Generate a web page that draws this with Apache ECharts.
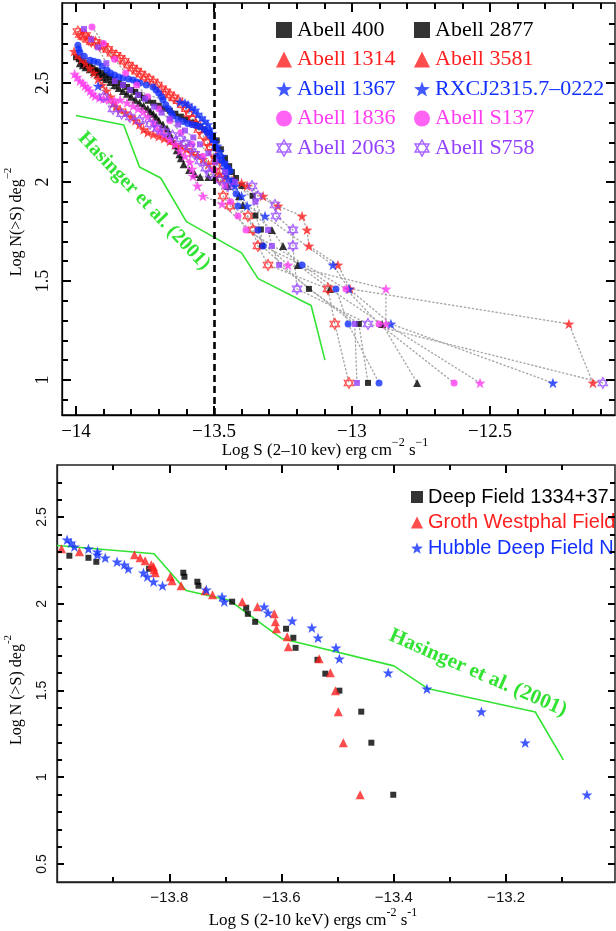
<!DOCTYPE html>
<html><head><meta charset="utf-8">
<script src="https://cdn.jsdelivr.net/npm/echarts@6/dist/echarts.min.js"></script>
<style>html,body{margin:0;padding:0;background:#fff}#c{width:616px;height:931px}</style>
</head><body><div id="c"></div>
<script>
// ---------- TOP PANEL DATA (Log S, Log N) ----------
const a400  = [[-14.0,2.63],[-13.99,2.62],[-13.98,2.61],[-13.97,2.60],[-13.96,2.59],[-13.95,2.585],[-13.94,2.575],[-13.93,2.565],[-13.92,2.56],[-13.905,2.55],[-13.89,2.54],[-13.875,2.53],[-13.86,2.515],[-13.845,2.50],[-13.83,2.49],[-13.815,2.48],[-13.80,2.465],[-13.785,2.455],[-13.77,2.44],[-13.755,2.425],[-13.74,2.41],[-13.72,2.40],[-13.70,2.385],[-13.68,2.37],[-13.66,2.36],[-13.64,2.345],[-13.62,2.33],[-13.60,2.315],[-13.58,2.30],[-13.565,2.29],[-13.55,2.28],[-13.535,2.265],[-13.52,2.25],[-13.505,2.23],[-13.49,2.21],[-13.475,2.165],[-13.46,2.12],[-13.445,2.08],[-13.435,2.05],[-13.42,2.02],[-13.40,1.98],[-13.36,1.93],[-13.35,1.83],[-13.33,1.76],[-13.326,1.677],[-13.156,1.46],[-12.975,1.283],[-12.942,0.985]];
const a2877 = [[-13.986,2.60],[-13.975,2.59],[-13.965,2.58],[-13.95,2.57],[-13.935,2.555],[-13.92,2.545],[-13.905,2.53],[-13.89,2.52],[-13.875,2.505],[-13.86,2.49],[-13.845,2.475],[-13.83,2.46],[-13.815,2.445],[-13.80,2.43],[-13.785,2.415],[-13.77,2.40],[-13.755,2.385],[-13.74,2.37],[-13.73,2.355],[-13.72,2.345],[-13.71,2.33],[-13.70,2.31],[-13.685,2.29],[-13.67,2.27],[-13.66,2.24],[-13.65,2.21],[-13.64,2.185],[-13.635,2.16],[-13.625,2.14],[-13.62,2.12],[-13.61,2.09],[-13.59,2.06],[-13.57,2.04],[-13.55,2.025],[-13.52,2.025],[-13.496,2.025],[-13.45,1.98],[-13.409,1.929],[-13.395,1.884],[-13.29,1.758],[-13.25,1.677],[-13.196,1.581],[-13.08,1.46],[-12.891,1.283],[-12.764,0.985]];
const a1314 = [[-14.007,2.66],[-13.995,2.64],[-13.98,2.62],[-13.965,2.60],[-13.95,2.575],[-13.935,2.55],[-13.92,2.52],[-13.905,2.49],[-13.89,2.46],[-13.875,2.43],[-13.865,2.40],[-13.855,2.38],[-13.84,2.365],[-13.82,2.35],[-13.80,2.33],[-13.785,2.31],[-13.77,2.29],[-13.755,2.265],[-13.74,2.25],[-13.72,2.24],[-13.70,2.23],[-13.68,2.22],[-13.66,2.205],[-13.64,2.19],[-13.62,2.18],[-13.60,2.165],[-13.58,2.15],[-13.56,2.135],[-13.54,2.115],[-13.52,2.09],[-13.50,2.065],[-13.48,2.04],[-13.46,2.025],[-13.43,2.01],[-13.40,1.995],[-13.38,1.98],[-13.322,1.929],[-13.268,1.879],[-13.181,1.828],[-13.163,1.758],[-13.156,1.677],[-13.051,1.581],[-13.007,1.46],[-12.214,1.283],[-12.127,0.985]];
const a3581 = [[-13.993,2.76],[-13.985,2.745],[-13.975,2.735],[-13.965,2.74],[-13.955,2.72],[-13.945,2.71],[-13.93,2.705],[-13.915,2.69],[-13.90,2.685],[-13.885,2.67],[-13.87,2.65],[-13.855,2.64],[-13.84,2.625],[-13.825,2.61],[-13.81,2.59],[-13.795,2.575],[-13.78,2.56],[-13.765,2.545],[-13.75,2.53],[-13.735,2.52],[-13.72,2.505],[-13.705,2.49],[-13.69,2.47],[-13.675,2.455],[-13.66,2.44],[-13.645,2.425],[-13.63,2.41],[-13.615,2.39],[-13.60,2.37],[-13.59,2.345],[-13.578,2.32],[-13.565,2.29],[-13.555,2.265],[-13.54,2.235],[-13.525,2.20],[-13.515,2.175],[-13.504,2.15],[-13.495,2.115],[-13.489,2.08],[-13.478,2.015],[-13.467,1.929],[-13.442,1.879],[-13.377,1.828],[-13.359,1.758],[-13.341,1.677],[-13.304,1.581],[-13.087,1.46],[-13.062,1.283],[-13.011,0.985]];
const a1367 = [[-13.993,2.69],[-13.99,2.67],[-13.986,2.655],[-13.97,2.635],[-13.949,2.615],[-13.935,2.61],[-13.92,2.605],[-13.905,2.585],[-13.888,2.565],[-13.875,2.55],[-13.86,2.54],[-13.845,2.53],[-13.83,2.525],[-13.81,2.52],[-13.793,2.515],[-13.78,2.505],[-13.768,2.50],[-13.745,2.49],[-13.721,2.48],[-13.71,2.465],[-13.70,2.45],[-13.69,2.43],[-13.685,2.415],[-13.675,2.39],[-13.665,2.37],[-13.655,2.35],[-13.649,2.333],[-13.63,2.315],[-13.612,2.305],[-13.595,2.295],[-13.58,2.29],[-13.565,2.285],[-13.551,2.28],[-13.535,2.265],[-13.525,2.25],[-13.515,2.235],[-13.504,2.215],[-13.495,2.17],[-13.489,2.13],[-13.475,2.11],[-13.46,2.09],[-13.45,2.07],[-13.442,2.055],[-13.431,2.005],[-13.42,1.94],[-13.413,1.879],[-13.341,1.758],[-13.322,1.677],[-13.181,1.581],[-13.058,1.46],[-13.014,1.283],[-12.902,0.985]];
const rxcj  = [[-13.92,2.485],[-13.623,2.404],[-13.605,2.398],[-13.594,2.39],[-13.58,2.375],[-13.569,2.364],[-13.558,2.343],[-13.545,2.325],[-13.533,2.308],[-13.522,2.29],[-13.514,2.268],[-13.508,2.245],[-13.504,2.217],[-13.497,2.20],[-13.489,2.182],[-13.48,2.155],[-13.471,2.131],[-13.465,2.10],[-13.46,2.066],[-13.455,2.04],[-13.449,2.015],[-13.435,1.995],[-13.424,1.98],[-13.40,1.929],[-13.38,1.879],[-13.315,1.828],[-13.069,1.581],[-13.011,1.46],[-12.859,1.283],[-12.272,0.985]];
const a1836 = [[-13.942,2.783],[-13.90,2.70],[-13.86,2.62],[-13.82,2.55],[-13.78,2.49],[-13.74,2.43],[-13.70,2.37],[-13.66,2.31],[-13.62,2.25],[-13.58,2.19],[-13.54,2.13],[-13.50,2.06],[-13.46,1.98],[-13.44,1.90],[-13.413,1.828],[-13.384,1.758],[-13.022,1.46],[-12.902,1.283],[-12.63,0.985]];
const s137  = [[-14.005,2.545],[-13.996,2.53],[-13.986,2.51],[-13.975,2.50],[-13.967,2.485],[-13.958,2.475],[-13.949,2.46],[-13.94,2.445],[-13.931,2.434],[-13.915,2.425],[-13.90,2.42],[-13.88,2.415],[-13.86,2.41],[-13.84,2.415],[-13.815,2.40],[-13.793,2.384],[-13.775,2.37],[-13.757,2.354],[-13.74,2.33],[-13.721,2.303],[-13.71,2.28],[-13.696,2.258],[-13.68,2.24],[-13.659,2.217],[-13.64,2.19],[-13.623,2.157],[-13.605,2.13],[-13.587,2.10],[-13.58,2.065],[-13.576,2.03],[-13.56,1.98],[-13.54,1.929],[-13.471,1.889],[-13.232,1.581],[-12.877,1.46],[-12.877,1.283],[-12.536,0.985]];
const a2063 = [[-13.971,2.773],[-13.945,2.72],[-13.92,2.68],[-13.89,2.60],[-13.859,2.51],[-13.83,2.49],[-13.804,2.465],[-13.775,2.44],[-13.75,2.42],[-13.717,2.38],[-13.69,2.35],[-13.66,2.32],[-13.63,2.29],[-13.605,2.26],[-13.575,2.225],[-13.551,2.19],[-13.52,2.145],[-13.496,2.10],[-13.46,2.05],[-13.424,2.00],[-13.35,1.90],[-13.304,1.758],[-13.29,1.677],[-13.264,1.581],[-12.99,1.283],[-12.982,0.985]];
const s758  = [[-13.90,2.43],[-13.866,2.369],[-13.835,2.345],[-13.804,2.328],[-13.77,2.31],[-13.732,2.293],[-13.705,2.27],[-13.678,2.253],[-13.65,2.235],[-13.623,2.217],[-13.605,2.195],[-13.587,2.177],[-13.57,2.14],[-13.551,2.106],[-13.53,2.07],[-13.514,2.04],[-13.48,2.01],[-13.449,1.98],[-13.362,1.98],[-13.341,1.929],[-13.279,1.884],[-13.275,1.828],[-13.214,1.758],[-13.214,1.677],[-13.199,1.46],[-12.942,1.283],[-12.091,0.985]];
const hasinger = [[-14.0,2.336],[-13.827,2.288],[-13.77,2.076],[-13.693,2.02],[-13.60,1.80],[-13.40,1.642],[-13.34,1.512],[-13.148,1.376],[-13.098,1.10]];
const cutLine = [-13.5];

// ---------- BOTTOM PANEL DATA ----------
const deepField = [[-13.978,2.277],[-13.944,2.265],[-13.930,2.242],[-13.836,2.202],[-13.775,2.179],[-13.773,2.156],[-13.750,2.127],[-13.748,2.104],[-13.688,2.012],[-13.663,1.977],[-13.660,1.942],[-13.647,1.896],[-13.592,1.856],[-13.579,1.804],[-13.575,1.746],[-13.536,1.677],[-13.522,1.597],[-13.497,1.499],[-13.458,1.378],[-13.440,1.199],[-13.401,0.899]];
const grothWestphal = [[-13.992,2.317],[-13.960,2.30],[-13.862,2.282],[-13.852,2.265],[-13.843,2.248],[-13.832,2.225],[-13.828,2.213],[-13.827,2.196],[-13.825,2.179],[-13.798,2.156],[-13.795,2.133],[-13.779,2.104],[-13.736,2.075],[-13.723,2.052],[-13.670,2.012],[-13.643,1.983],[-13.613,1.942],[-13.611,1.896],[-13.609,1.856],[-13.590,1.810],[-13.588,1.752],[-13.533,1.683],[-13.513,1.602],[-13.504,1.499],[-13.499,1.378],[-13.490,1.199],[-13.460,0.899]];
const hubbleDeep = [[-13.982,2.369],[-13.975,2.352],[-13.969,2.329],[-13.944,2.317],[-13.928,2.30],[-13.928,2.282],[-13.914,2.265],[-13.893,2.242],[-13.880,2.225],[-13.873,2.202],[-13.846,2.179],[-13.839,2.156],[-13.828,2.127],[-13.812,2.104],[-13.734,2.081],[-13.706,2.040],[-13.702,2.012],[-13.631,1.983],[-13.624,1.948],[-13.581,1.902],[-13.546,1.862],[-13.535,1.804],[-13.503,1.746],[-13.497,1.683],[-13.410,1.602],[-13.341,1.510],[-13.244,1.378],[-13.166,1.199],[-13.056,0.899]];

// ---------- TICKS ----------
const topXLabels = [-14,-13.5,-13,-12.5];
const topXTicks = [-14.0,-13.9,-13.8,-13.7,-13.6,-13.5,-13.4,-13.3,-13.2,-13.1,-13.0,-12.9,-12.8,-12.7,-12.6,-12.5,-12.4,-12.3,-12.2,-12.1];
const topYLabels = [1,1.5,2,2.5];
const topYTicks = [0.9,1.0,1.1,1.2,1.3,1.4,1.5,1.6,1.7,1.8,1.9,2.0,2.1,2.2,2.3,2.4,2.5,2.6,2.7,2.8];
const botXLabels = [-13.8,-13.6,-13.4,-13.2];
const botXTicks = [-13.9,-13.8,-13.7,-13.6,-13.5,-13.4,-13.3,-13.2,-13.1];
const botYLabels = [0.5,1,1.5,2,2.5];
const botYTicks = [0.5,0.6,0.7,0.8,0.9,1.0,1.1,1.2,1.3,1.4,1.5,1.6,1.7,1.8,1.9,2.0,2.1,2.2,2.3,2.4,2.5,2.6,2.7];

const TOP = {xmin:-14.0507, xmax:-12.047, ymin:0.823, ymax:2.904, w:553, h:412};
const BOT = {xmin:-14.0, xmax:-13.006, ymin:0.396, ymax:2.80, w:558, h:417};

const SERIF = "'Liberation Serif','DejaVu Serif',serif";
const SANS = "'Liberation Sans','DejaVu Sans',sans-serif";
const BLACK='#000000', RED='#ff1f1f', BLUE='#1230ff', MAG='#ff3cf0', PURP='#9440ff', GREEN='#33e333';
const STAR='path://M0,-10L2.35,-3.24L9.51,-3.09L3.8,1.24L5.88,8.09L0,4L-5.88,8.09L-3.8,1.24L-9.51,-3.09L-2.35,-3.24Z';
const HEX='path://M0,-10L8.66,5L-8.66,5Z M0,10L8.66,-5L-8.66,-5Z';

const fmt = v => (v < 0 ? '\u2212' : '') + Math.abs(v);

// main axes: native major ticks (customValues) plus labels
function ax(dim, g, R, labels, lab, lineColor, len) {
  return {type:'value', gridIndex:g, position: dim==='x' ? 'bottom' : 'left',
    min: dim==='x'?R.xmin:R.ymin, max: dim==='x'?R.xmax:R.ymax,
    axisLine:{show:true, onZero:false, lineStyle:{color:lineColor, width:1.3}}, splitLine:{show:false},
    axisTick:{show:true, inside:true, length:len, customValues:labels, lineStyle:{color:'#000', width:2}},
    axisLabel: Object.assign({show:true, customValues:labels, formatter:fmt}, lab)
  };
}
const topXLab = {fontFamily:SERIF, fontSize:19, color:'#000', margin:8};
const topYLab = {fontFamily:SERIF, fontSize:18, color:'#000', rotate:90, margin:10};
const botXLab = {fontFamily:SANS, fontSize:15, color:'#111', margin:8};
const botYLab = {fontFamily:SANS, fontSize:14, color:'#111', rotate:90, margin:8};

const xAxes = [ax('x',0,TOP,topXLabels,topXLab,'#000',9), ax('x',1,BOT,botXLabels,botXLab,'#222',8)];
const yAxes = [ax('y',0,TOP,topYLabels,topYLab,'#000',9), ax('y',1,BOT,botYLabels,botYLab,'#222',7)];

// tick marks on all four frame sides as markLine segments in data coordinates
function tickSegments(R, vals, dim, lenPx) {
  const out = [];
  if (dim === 'x') {
    const d = lenPx * (R.ymax - R.ymin) / R.h;
    vals.forEach(v => {
      out.push([{coord:[v, R.ymin]}, {coord:[v, R.ymin + d]}]);
      out.push([{coord:[v, R.ymax]}, {coord:[v, R.ymax - d]}]);
    });
  } else {
    const d = lenPx * (R.xmax - R.xmin) / R.w;
    vals.forEach(v => {
      out.push([{coord:[R.xmin, v]}, {coord:[R.xmin + d, v]}]);
      out.push([{coord:[R.xmax, v]}, {coord:[R.xmax - d, v]}]);
    });
  }
  return out;
}
const topTickData = [].concat(tickSegments(TOP, topXLabels, 'x', 9), tickSegments(TOP, topXTicks, 'x', 6),
                              tickSegments(TOP, topYLabels, 'y', 9), tickSegments(TOP, topYTicks, 'y', 6));
const botTickData = [].concat(tickSegments(BOT, botXLabels, 'x', 8), tickSegments(BOT, botXTicks, 'x', 5),
                              tickSegments(BOT, botYLabels, 'y', 7), tickSegments(BOT, botYTicks, 'y', 5));
function tickHost(idx, dataArr, ticks) {
  return {type:'line', xAxisIndex:idx, yAxisIndex:idx, data:dataArr, symbol:'none', silent:true, z:8,
    lineStyle:{opacity:0},
    markLine:{silent:true, symbol:['none','none'], label:{show:false}, animation:false, z:8,
      lineStyle:{color:'#000', width:2, type:'solid', opacity:1}, emphasis:{disabled:true}, data:ticks}};
}

const clusters = [
  {name:'Abell 400', data:a400, symbol:'rect', size:6, color:BLACK},
  {name:'Abell 2877', data:a2877, symbol:'triangle', size:8, color:BLACK},
  {name:'Abell 1314', data:a1314, symbol:STAR, size:11, color:RED},
  {name:'Abell 3581', data:a3581, symbol:HEX, size:11, color:RED, hollow:true},
  {name:'Abell 1367', data:a1367, symbol:'circle', size:7, color:BLUE},
  {name:'RXCJ2315.7\u20130222', data:rxcj, symbol:STAR, size:11, color:BLUE},
  {name:'Abell 1836', data:a1836, symbol:'circle', size:7, color:MAG},
  {name:'Abell S137', data:s137, symbol:STAR, size:11, color:MAG},
  {name:'Abell 2063', data:a2063, symbol:'rect', size:6, color:PURP},
  {name:'Abell S758', data:s758, symbol:HEX, size:11, color:PURP, hollow:true}
];

const series = [];
clusters.forEach(c => {
  series.push({type:'line', xAxisIndex:0, yAxisIndex:0, data:c.data, symbol:'none', silent:true, z:2,
    lineStyle:{color:'#a8a8a8', width:1.4, type:[1.2,2.8], cap:'round'}});
});
clusters.forEach(c => {
  series.push({type:'scatter', name:c.name, xAxisIndex:0, yAxisIndex:0, data:c.data, symbol:c.symbol,
    symbolSize:c.size, symbolKeepAspect:true, z:3,
    itemStyle: c.hollow ? {color:'rgba(255,255,255,0)', borderColor:c.color, borderWidth:1.1} : {color:c.color}});
});
series.push({type:'line', name:'hasingerTop', xAxisIndex:0, yAxisIndex:0, data:hasinger, symbol:'none', z:4,
  lineStyle:{color:GREEN, width:1.6},
  markLine:{silent:true, symbol:'none', label:{show:false}, animation:false,
    lineStyle:{color:'#000', width:2.6, type:[7,4]}, data: cutLine.map(v => ({xAxis:v}))}});
series.push({type:'line', name:'hasingerBot', xAxisIndex:1, yAxisIndex:1, data:hasinger, symbol:'none', z:2,
  lineStyle:{color:GREEN, width:1.6}});
series.push({type:'scatter', name:'Deep Field 1334+37', xAxisIndex:1, yAxisIndex:1, data:deepField, symbol:'rect', symbolSize:6, itemStyle:{color:BLACK}, z:3});
series.push({type:'scatter', name:'Groth Westphal Field', xAxisIndex:1, yAxisIndex:1, data:grothWestphal, symbol:'triangle', symbolSize:9, itemStyle:{color:RED}, z:3});
series.push({type:'scatter', name:'Hubble Deep Field N', xAxisIndex:1, yAxisIndex:1, data:hubbleDeep, symbol:STAR, symbolSize:11, symbolKeepAspect:true, itemStyle:{color:BLUE}, z:3});
series.push(tickHost(0, hasinger, topTickData));
series.push(tickHost(1, hasinger, botTickData));

function li(name, icon, color, hollow) {
  return {name, icon, textStyle:{color},
    itemStyle: hollow ? {color:'rgba(255,255,255,0)', borderColor:color, borderWidth:1.5} : {color, borderWidth:0}};
}
const legends = [
  {orient:'vertical', left:271, top:14, itemWidth:16, itemHeight:16, itemGap:7.5, selectedMode:false,
   textStyle:{fontFamily:SERIF, fontSize:22},
   data:[li('Abell 400','rect',BLACK), li('Abell 1314','triangle',RED), li('Abell 1367',STAR,BLUE), li('Abell 1836','circle',MAG), li('Abell 2063',HEX,PURP,true)]},
  {orient:'vertical', left:409, top:14, itemWidth:16, itemHeight:16, itemGap:7.5, selectedMode:false,
   textStyle:{fontFamily:SERIF, fontSize:22},
   data:[li('Abell 2877','rect',BLACK), li('Abell 3581','triangle',RED), li('RXCJ2315.7\u20130222',STAR,BLUE), li('Abell S137','circle',MAG), li('Abell S758',HEX,PURP,true)]},
  {orient:'vertical', left:406, top:482, itemWidth:12, itemHeight:12, itemGap:5.5, selectedMode:false,
   textStyle:{fontFamily:SANS, fontSize:20},
   data:[li('Deep Field 1334+37','rect',BLACK), li('Groth Westphal Field','triangle',RED), li('Hubble Deep Field N',STAR,BLUE)]}
];

function titleText(x, y, rot, parts, family, size) {
  let text = parts.map(p => p[1] ? '{s|' + p[0] + '}' : '{n|' + p[0] + '}').join('');
  return {type:'text', x, y, rotation:rot, z:10, silent:true,
    style:{text, align:'center', verticalAlign:'middle', textAlign:'center', textVerticalAlign:'middle', fill:'#000',
      rich:{n:{fontFamily:family, fontSize:size, lineHeight:size+6, fill:'#000', verticalAlign:'bottom'},
            s:{fontFamily:family, fontSize:Math.round(size*0.68), lineHeight:Math.round(size*0.7), fill:'#000', verticalAlign:'top'}}}};
}

const graphics = [
  titleText(325, 448, 0, [['Log S (2\u201310 kev) erg cm'],['\u22122',1],[' s'],['\u22121',1]], SERIF, 17),
  titleText(14, 222, Math.PI/2, [['Log N(>S) deg'],['\u22122',1]], SERIF, 16),
  titleText(313, 918, 0, [['Log S (2-10 keV) ergs cm'],['-2',1],[' s'],['-1',1]], SERIF, 17),
  titleText(14, 690, Math.PI/2, [['Log N (>S) deg'],['-2',1]], SERIF, 16),
  {type:'text', x:144, y:201, rotation:-0.81, z:10, silent:true,
   style:{text:'Hasinger et al. (2001)', fill:GREEN, font:"bold 20px 'Liberation Serif'", align:'center', verticalAlign:'middle', textAlign:'center', textVerticalAlign:'middle'}},
  {type:'text', x:478, y:673, rotation:-0.41, z:10, silent:true,
   style:{text:'Hasinger et al. (2001)', fill:GREEN, font:"bold 21px 'Liberation Serif'", align:'center', verticalAlign:'middle', textAlign:'center', textVerticalAlign:'middle'}}
];

const chart = echarts.init(document.getElementById('c'), null, {renderer:'canvas'});
chart.setOption({
  animation:false,
  backgroundColor:'#fff',
  grid:[
    {left:62, top:3, width:TOP.w, height:TOP.h, show:true, borderColor:'#000', borderWidth:1.3, containLabel:false},
    {left:57, top:465, width:BOT.w, height:BOT.h, show:true, borderColor:'#222', borderWidth:1.5, containLabel:false}
  ],
  xAxis:xAxes, yAxis:yAxes, legend:legends, series, graphic:graphics
});
</script></body></html>
